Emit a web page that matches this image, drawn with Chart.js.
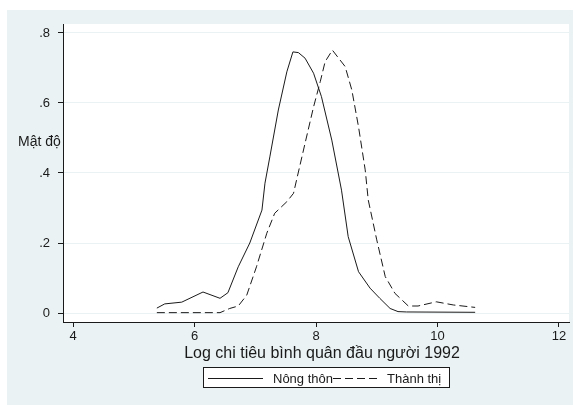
<!DOCTYPE html>
<html>
<head>
<meta charset="utf-8">
<script src="https://cdn.jsdelivr.net/npm/chart.js@4/dist/chart.umd.min.js"></script>
<style>
  html, body { margin: 0; padding: 0; background: #fff; }
  canvas { display: block; }
</style>
</head>
<body>
<canvas id="densityChart" width="574" height="405"></canvas>
<script>
// kernel density of log per-capita expenditure, 1992
const ruralX = [5.38, 5.51, 5.79, 6.14, 6.42, 6.55, 6.72, 6.91, 7.11, 7.16, 7.24, 7.38, 7.52, 7.62, 7.71, 7.82, 7.96, 8.09, 8.26, 8.42, 8.53, 8.70, 8.89, 9.05, 9.22, 9.35, 9.49, 10.62];
const ruralY = [0.014, 0.026, 0.031, 0.060, 0.042, 0.058, 0.132, 0.200, 0.294, 0.371, 0.446, 0.580, 0.689, 0.746, 0.744, 0.728, 0.685, 0.618, 0.494, 0.351, 0.218, 0.118, 0.071, 0.042, 0.013, 0.004, 0.003, 0.002];
const urbanX = [5.38, 6.42, 6.58, 6.72, 6.86, 7.02, 7.19, 7.32, 7.52, 7.63, 7.68, 7.82, 7.96, 8.07, 8.15, 8.27, 8.48, 8.59, 8.70, 8.81, 8.86, 9.00, 9.14, 9.30, 9.52, 9.68, 9.98, 10.26, 10.62];
const urbanY = [0.001, 0.001, 0.013, 0.020, 0.051, 0.132, 0.228, 0.285, 0.318, 0.342, 0.380, 0.485, 0.589, 0.661, 0.718, 0.751, 0.704, 0.637, 0.532, 0.409, 0.323, 0.209, 0.104, 0.056, 0.020, 0.020, 0.032, 0.023, 0.016];
const seriesNames = ['Nông thôn', 'Thành thị'];
const xTicks = [4, 6, 8, 10, 12];
const yTicks = [0, 0.2, 0.4, 0.6, 0.8];
const xTitle = 'Log chi tiêu bình quân đầu người 1992';
const yTitle = 'Mật độ';

const toPoints = (xs, ys) => xs.map((x, i) => ({ x: x, y: ys[i] }));
const FONT = '"Liberation Sans", Arial, sans-serif';
const BG = '#eaf2f3';
const INK = '#1a1a1a';

// light panel behind the plot, white plot region
const backdrop = {
  id: 'backdrop',
  beforeDraw(chart) {
    const { ctx, chartArea: a } = chart;
    ctx.save();
    ctx.fillStyle = '#fff';
    ctx.fillRect(0, 0, chart.width, chart.height);
    ctx.fillStyle = BG;
    ctx.fillRect(7, 10, chart.width - 8, chart.height - 10);
    ctx.fillStyle = '#fff';
    ctx.fillRect(a.left, a.top, a.right - a.left, a.bottom - a.top);
    ctx.restore();
  }
};

// axis titles and boxed legend
const extras = {
  id: 'extras',
  afterDraw(chart) {
    const ctx = chart.ctx;
    ctx.save();
    ctx.fillStyle = INK;
    ctx.textBaseline = 'middle';
    ctx.font = '14px ' + FONT;
    ctx.textAlign = 'left';
    ctx.fillText(yTitle, 18, 142);

    ctx.font = '16px ' + FONT;
    ctx.textAlign = 'center';
    ctx.fillText(xTitle, 322, 354);

    // legend
    ctx.fillStyle = '#fff';
    ctx.fillRect(203, 367, 247, 21);
    ctx.strokeStyle = INK;
    ctx.lineWidth = 1;
    ctx.strokeRect(203.5, 367.5, 246, 20);

    ctx.beginPath();
    ctx.moveTo(208, 378.5);
    ctx.lineTo(263, 378.5);
    ctx.stroke();
    ctx.setLineDash([8, 4]);
    ctx.beginPath();
    ctx.moveTo(333, 378.5);
    ctx.lineTo(378, 378.5);
    ctx.stroke();
    ctx.setLineDash([]);

    ctx.fillStyle = INK;
    ctx.font = '13px ' + FONT;
    ctx.textAlign = 'left';
    ctx.fillText(seriesNames[0], 273, 379);
    ctx.fillText(seriesNames[1], 387, 379);
    ctx.restore();
  }
};

new Chart(document.getElementById('densityChart'), {
  type: 'line',
  data: {
    datasets: [
      {
        label: seriesNames[0],
        data: toPoints(ruralX, ruralY),
        borderColor: INK,
        borderWidth: 1,
        pointRadius: 0,
        tension: 0,
        fill: false
      },
      {
        label: seriesNames[1],
        data: toPoints(urbanX, urbanY),
        borderColor: INK,
        borderWidth: 1,
        borderDash: [8, 4],
        pointRadius: 0,
        tension: 0,
        fill: false
      }
    ]
  },
  options: {
    responsive: false,
    animation: false,
    events: [],
    layout: { padding: { left: 0, top: 24, right: 5, bottom: 43 } },
    plugins: { legend: { display: false }, tooltip: { enabled: false } },
    scales: {
      x: {
        type: 'linear',
        min: 3.835,
        max: 12.165,
        afterBuildTicks: s => { s.ticks = xTicks.map(v => ({ value: v })); },
        afterFit: s => { s.height = 40; },
        border: { color: INK, width: 1 },
        grid: { drawOnChartArea: false, tickLength: 5, tickColor: INK },
        ticks: { color: INK, font: { family: FONT, size: 13 }, padding: 2, maxRotation: 0 }
      },
      y: {
        type: 'linear',
        min: -0.0257,
        max: 0.8257,
        afterBuildTicks: s => { s.ticks = yTicks.map(v => ({ value: v })); },
        afterFit: s => { s.width = 63; },
        border: { color: INK, width: 1 },
        grid: { color: BG, lineWidth: 1, tickLength: 5, tickColor: INK },
        ticks: {
          color: INK,
          font: { family: FONT, size: 13 },
          padding: 8,
          callback: v => v === 0 ? '0' : String(+v.toFixed(1)).replace(/^0\./, '.')
        }
      }
    }
  },
  plugins: [backdrop, extras]
});
</script>
</body>
</html>
